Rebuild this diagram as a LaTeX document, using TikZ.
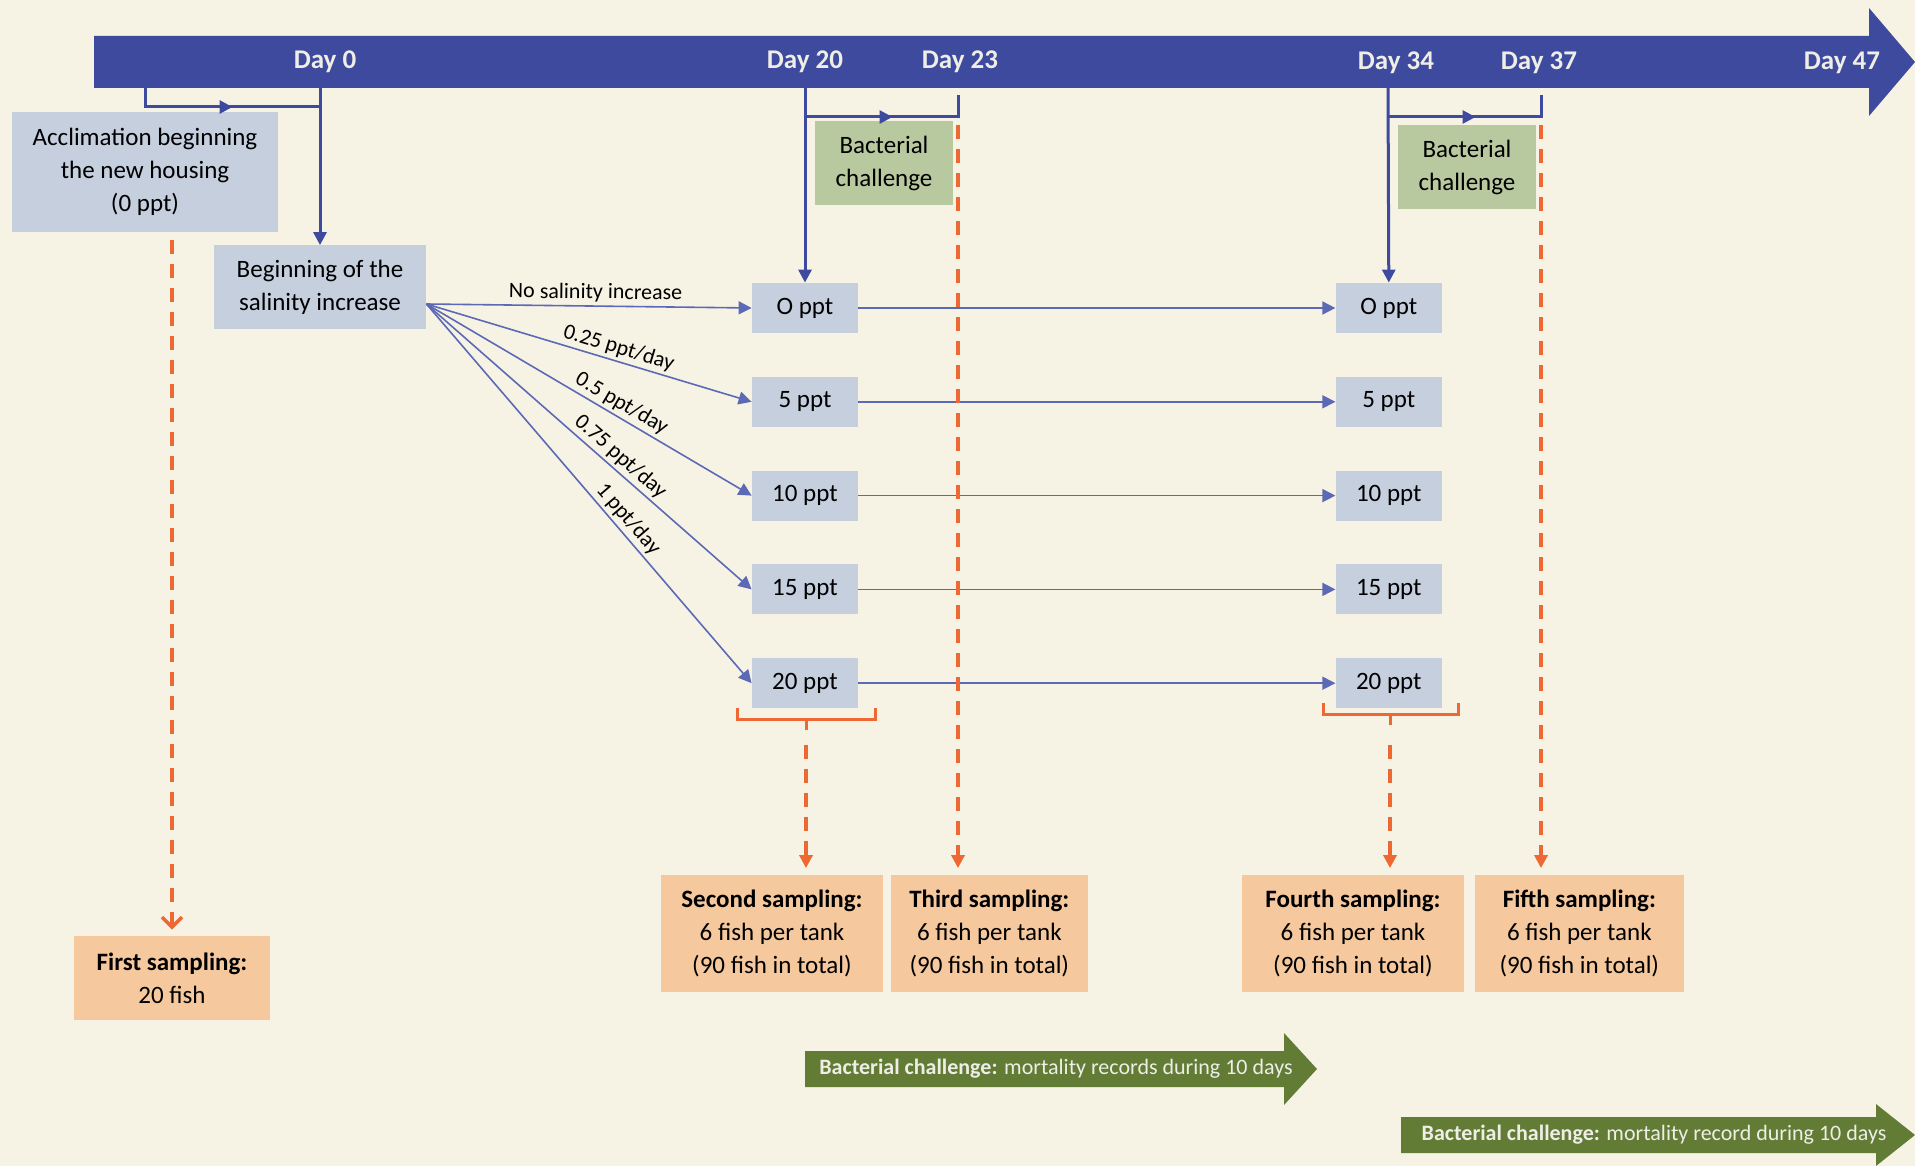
\documentclass[tikz,border=0pt]{standalone}
\usepackage{fontspec}
\setmainfont{Carlito}
\usetikzlibrary{arrows.meta, positioning, decorations.markings}

\definecolor{paper}{RGB}{247,243,228}
\definecolor{barblue}{RGB}{62,74,158}
\definecolor{fanblue}{RGB}{92,106,182}
\definecolor{tankgray}{RGB}{197,207,222}
\definecolor{challgreen}{RGB}{184,201,160}
\definecolor{samplepeach}{RGB}{245,200,158}
\definecolor{dashorange}{RGB}{238,104,52}
\definecolor{recgreen}{RGB}{98,124,54}
\definecolor{daytext}{RGB}{238,238,230}

\begin{document}
\begin{tikzpicture}[x=0.5pt, y=-0.5pt, >={Triangle[length=6.5pt, width=6.5pt]},
  box/.style={fill=tankgray, align=center, inner sep=0pt, font=\fontsize{12.5}{16.5}\selectfont},
  ppt/.style={box, minimum width=53pt, minimum height=25pt},
  challenge/.style={box, fill=challgreen, minimum width=69pt, minimum height=42pt},
  sample/.style={box, fill=samplepeach, minimum height=58.5pt},
  day/.style={font=\fontsize{13.5}{16}\selectfont\bfseries, text=daytext},
  link/.style={draw=barblue, line width=1.5pt},
  fan/.style={draw=fanblue, line width=0.8pt, ->},
  rate/.style={font=\fontsize{11}{13}\selectfont, sloped, above, pos=0.58, inner sep=1.5pt},
  sampling/.style={draw=dashorange, line width=1.8pt, dash pattern=on 7pt off 5pt, ->, shorten >=3pt},
  brace/.style={draw=dashorange, line width=1.5pt},
  rec/.style={font=\fontsize{11}{13}\selectfont, text=daytext, inner sep=0pt},
  midarrow/.style={postaction={decorate}, decoration={markings,
    mark=at position 0.5 with {\arrow{Triangle[length=6.5pt, width=6.5pt]}}}}
]
  \fill[paper] (0,0) rectangle (1915,1166);
  \useasboundingbox (0,0) rectangle (1915,1166);

  % time line
  \fill[barblue] (94,36) -- (1869,36) -- (1869,8) -- (1915,62) -- (1869,116) -- (1869,88) -- (94,88) -- cycle;
  \node[day] (d0) at (325,62) {Day 0};
  \node[day] (d20) at (805,62) {Day 20};
  \node[day] (d23) at (960,62) {Day 23};
  \node[day] (d34) at (1396,63) {Day 34};
  \node[day] (d37) at (1539,63) {Day 37};
  \node[day] (d47) at (1842,63) {Day 47};
  \coordinate (t0) at (320,88);
  \coordinate (t20) at (805,88);
  \coordinate (t23) at (958,95);
  \coordinate (t34) at (1388,88);
  \coordinate (t37) at (1541,95);

  % start
  \node[box, minimum width=133pt, minimum height=60pt] (acc) at (145,172) {Acclimation beginning\\the new housing\\(0 ppt)};
  \node[box, minimum width=106pt, minimum height=41.5pt] (beg) at (320,287) {Beginning of the\\salinity increase};
  \coordinate (fo) at ([yshift=-8.5pt]beg.east);

  % tanks on day 20
  \node[ppt] (a0) at (805,308) {O ppt};
  \node[ppt, below=21.5pt of a0] (a1) {5 ppt};
  \node[ppt, below=21.5pt of a1] (a2) {10 ppt};
  \node[ppt, below=21.5pt of a2] (a3) {15 ppt};
  \node[ppt, below=21.5pt of a3] (a4) {20 ppt};

  % tanks on day 34
  \node[ppt, right=238.5pt of a0] (b0) {O ppt};
  \node[ppt, right=238.5pt of a1] (b1) {5 ppt};
  \node[ppt, right=238.5pt of a2] (b2) {10 ppt};
  \node[ppt, right=238.5pt of a3] (b3) {15 ppt};
  \node[ppt, right=238.5pt of a4] (b4) {20 ppt};

  \node[challenge] (ch1) at (884,163) {Bacterial\\challenge};
  \node[challenge] (ch2) at (1467,167) {Bacterial\\challenge};

  % samplings
  \node[sample, minimum width=98pt, minimum height=42pt] (first) at (172,978) {\textbf{First sampling:}\\20 fish};
  \node[sample, minimum width=111pt] (second) at (772,933) {\textbf{Second sampling:}\\6 fish per tank\\(90 fish in total)};
  \node[sample, minimum width=98.5pt, right=3.5pt of second] (third) {\textbf{Third sampling:}\\6 fish per tank\\(90 fish in total)};
  \node[sample, minimum width=111pt] (fourth) at (1353,933) {\textbf{Fourth sampling:}\\6 fish per tank\\(90 fish in total)};
  \node[sample, minimum width=104.5pt, right=5pt of fourth] (fifth) {\textbf{Fifth sampling:}\\6 fish per tank\\(90 fish in total)};

  % blue links
  \draw[link, midarrow] (acc.north |- t0) -- ++(0,19) -| (t0);
  \draw[link, ->] (t0) -- (beg.north);
  \draw[link, ->] (t20) -- (a0.north);
  \draw[link, midarrow] ([yshift=-14.5pt]t20) -- ([yshift=-11pt]t23) -- (t23);
  \draw[link, ->] (t34) -- (b0.north);
  \draw[link, midarrow] ([yshift=-14.5pt]t34) -- ([yshift=-11pt]t37) -- (t37);

  \draw[fan] (fo) -- node[rate, pos=0.52] {No salinity increase} (a0.west);
  \draw[fan] (fo) -- node[rate] {0.25 ppt/day} (a1.west);
  \draw[fan] (fo) -- node[rate] {0.5 ppt/day} (a2.west);
  \draw[fan] (fo) -- node[rate, pos=0.57] {0.75 ppt/day} (a3.west);
  \draw[fan] (fo) -- node[rate, pos=0.59] {1 ppt/day} (a4.west);

  \draw[fan] (a0.east) -- (b0.west);
  \draw[fan] (a1.east) -- (b1.west);
  \draw[fan] (a2.east) -- (b2.west);
  \draw[fan] (a3.east) -- (b3.west);
  \draw[fan] (a4.east) -- (b4.west);

  % orange braces and sampling arrows
  \draw[brace] (737,708) -- (737,719) -- (875,719) -- (875,708) (806,719) -- (806,730);
  \coordinate (k1) at (806,730);
  \draw[brace] (1323,703) -- (1323,714) -- (1458,714) -- (1458,703) (1390,714) -- (1390,725);
  \coordinate (k2) at (1390,725);

  \draw[sampling, shorten <=4pt, -{Straight Barb[length=5pt, width=10pt]}] (first.north |- acc.south) -- (first.north);
  \draw[sampling] ([yshift=-7.5pt]k1) -- (k1 |- second.north);
  \draw[sampling] ([yshift=-15pt]t23) -- (t23 |- third.north);
  \draw[sampling] ([yshift=-10pt]k2) -- (k2 |- fourth.north);
  \draw[sampling] ([yshift=-15pt]t37) -- (t37 |- fifth.north);

  % challenge records
  \fill[recgreen] (805,1051) -- (1284,1051) -- (1284,1033) -- (1317,1069) -- (1284,1105) -- (1284,1087) -- (805,1087) -- cycle;
  \node[rec] (rec1) at (1056,1069) {\textbf{Bacterial challenge:} mortality records during 10 days};
  \fill[recgreen] (1401,1117) -- (1876,1117) -- (1876,1104) -- (1915,1135) -- (1876,1166) -- (1876,1153) -- (1401,1153) -- cycle;
  \node[rec] (rec2) at (1654,1135) {\textbf{Bacterial challenge:} mortality record during 10 days};
\end{tikzpicture}
\end{document}
